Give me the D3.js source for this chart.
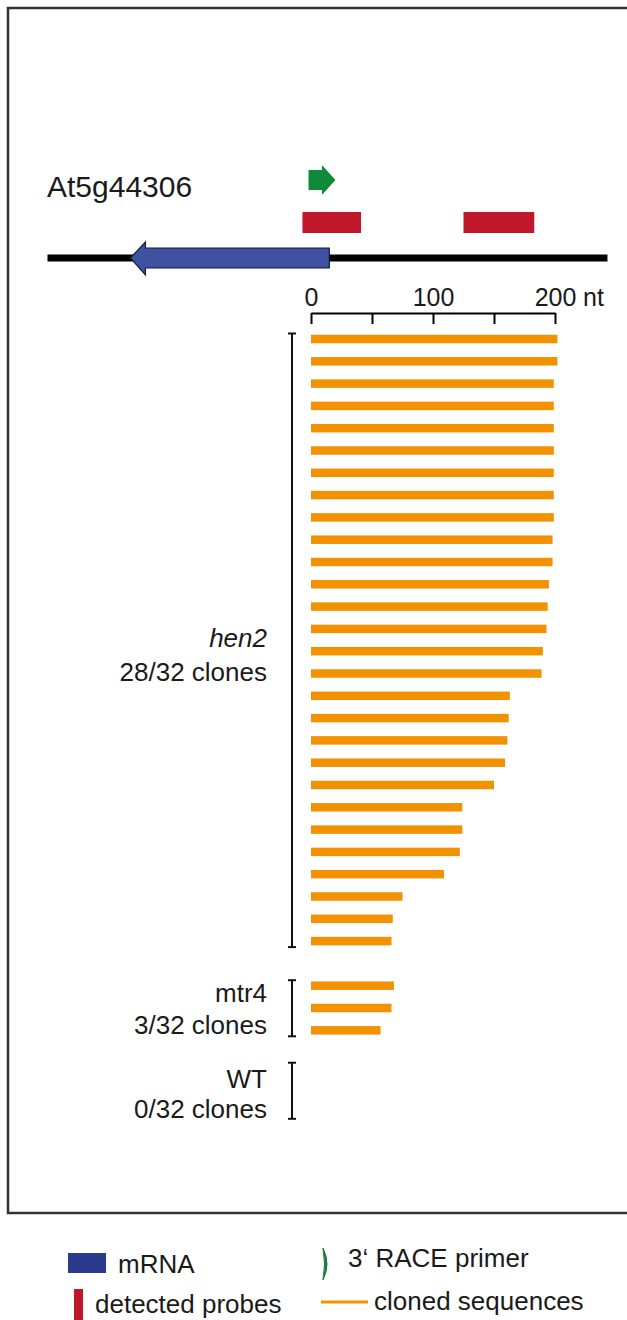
<!DOCTYPE html>
<html>
<head>
<meta charset="utf-8">
<script src="https://cdn.jsdelivr.net/npm/d3@7"></script>
<style>
  body { margin: 0; background: #fff; }
  text { font-family: "Liberation Sans", Arial, sans-serif; fill: #1a1a1a; }
</style>
</head>
<body>
<div id="chart"></div>
<script>
// clone lengths (nt)
const hen2Clones = [202, 202, 199, 199, 199, 199, 199, 199, 199, 198, 198, 195, 194, 193,
                    190, 189, 163, 162, 161, 159, 150, 124, 124, 122, 109, 75, 67, 66];
const mtr4Clones = [68, 66, 57];
const wtClones = [];

// genome features (nt, relative to 0)
const genomeSpan = [-216, 243];
const mrna = [15, -148];          // start, tip (arrow points left)
const probes = [[-7, 41], [125, 183]];
const primer = [-2, 20];
const axisTicks = [0, 50, 100, 150, 200];
const tickLabels = { 0: "0", 100: "100", 200: "200" };

const groups = [
  { name: "hen2", italic: true, clones: hen2Clones, firstRow: 0, rowsShown: [0, 27], label: "28/32 clones", dy: [7, 41] },
  { name: "mtr4", italic: false, clones: mtr4Clones, firstRow: 29, rowsShown: [29, 31], label: "3/32 clones", dy: [-6, 26] },
  { name: "WT", italic: false, clones: wtClones, firstRow: 33, rowsShown: [32.7, 34.7], label: "0/32 clones", dy: [-3, 27] }
];

const width = 627, height = 1320;
const svg = d3.select("#chart").append("svg")
  .attr("width", width)
  .attr("height", height);

// frame
svg.append("rect")
  .attr("x", 8).attr("y", 8)
  .attr("width", 700).attr("height", 1205)
  .attr("fill", "none")
  .attr("stroke", "#333")
  .attr("stroke-width", 2.5);

const x = d3.scaleLinear().domain([0, 200]).range([311, 555]);
const row = d3.scaleLinear().domain([0, 1]).range([339, 361.3]);

function label(parent, tx, ty, str, size, anchor, italic) {
  return parent.append("text")
    .attr("x", tx)
    .attr("y", ty)
    .attr("text-anchor", anchor)
    .attr("font-size", size)
    .attr("font-style", italic ? "italic" : "normal")
    .text(str);
}

// gene name
label(svg, 47, 197, "At5g44306", 30, "start", false);

// 3' RACE primer arrow
const pY = 180;
const pMid = x(primer[0]) + (x(primer[1]) - x(primer[0])) * 0.5;
svg.append("path")
  .attr("d", `M${x(primer[0])},${pY - 10}H${pMid}V${pY - 15}L${x(primer[1])},${pY}L${pMid},${pY + 15}V${pY + 10}H${x(primer[0])}Z`)
  .attr("fill", "#0f8a3a");

// probes
svg.selectAll(".probe")
  .data(probes)
  .enter()
  .append("rect")
    .attr("class", "probe")
    .attr("x", d => x(d[0]))
    .attr("y", 212)
    .attr("width", d => x(d[1]) - x(d[0]))
    .attr("height", 21)
    .attr("fill", "#c0182a");

// genomic line
const gY = 258;
svg.append("line")
  .attr("x1", x(genomeSpan[0])).attr("x2", x(genomeSpan[1]))
  .attr("y1", gY).attr("y2", gY)
  .attr("stroke", "#000")
  .attr("stroke-width", 7);

// mRNA arrow
const headBase = x(mrna[1]) + 15;
svg.append("path")
  .attr("d", `M${x(mrna[0])},${gY - 10}V${gY + 10}H${headBase}V${gY + 17}L${x(mrna[1])},${gY}L${headBase},${gY - 16}V${gY - 10}Z`)
  .attr("fill", "#3f51a1")
  .attr("stroke", "#14183c")
  .attr("stroke-width", 1.2);

// scale bar
const axisG = svg.append("g")
  .attr("transform", "translate(0,313)")
  .call(d3.axisTop(x)
    .tickValues(axisTicks)
    .tickSizeInner(-11)
    .tickSizeOuter(0)
    .tickPadding(7)
    .tickFormat(d => tickLabels[d] || ""));
axisG.select(".domain").attr("stroke", "#000").attr("stroke-width", 2);
axisG.selectAll(".tick line").attr("stroke", "#000").attr("stroke-width", 2);
axisG.selectAll(".tick text")
  .attr("font-size", 25)
  .attr("font-family", "Liberation Sans, Arial, sans-serif")
  .attr("fill", "#1a1a1a");
label(svg, 583, 306, "nt", 25, "start", false);

// clone bars and group brackets
const bx = 292;
groups.forEach(g => {
  svg.append("g").selectAll("rect")
    .data(g.clones)
    .enter()
    .append("rect")
      .attr("x", x(0))
      .attr("y", (d, i) => row(g.firstRow + i) - 4.25)
      .attr("width", d => x(d) - x(0))
      .attr("height", 8.5)
      .attr("fill", "#f39200");

  const y1 = row(g.rowsShown[0]) - 5.5;
  const y2 = row(g.rowsShown[1]) + 6;
  const br = svg.append("g").attr("stroke", "#111").attr("stroke-width", 2);
  br.append("line").attr("x1", bx).attr("x2", bx).attr("y1", y1).attr("y2", y2);
  br.append("line").attr("x1", bx - 4).attr("x2", bx + 4).attr("y1", y1).attr("y2", y1);
  br.append("line").attr("x1", bx - 4).attr("x2", bx + 4).attr("y1", y2).attr("y2", y2);

  const cy = (y1 + y2) / 2;
  label(svg, 267, cy + g.dy[0], g.name, 26, "end", g.italic);
  label(svg, 267, cy + g.dy[1], g.label, 26, "end", false);
});

// legend
svg.append("rect").attr("x", 68).attr("y", 1253).attr("width", 38).attr("height", 20).attr("fill", "#2c3a8e");
label(svg, 118, 1273, "mRNA", 26, "start", false);
svg.append("rect").attr("x", 74).attr("y", 1289).attr("width", 9).attr("height", 31).attr("fill", "#c0182a");
label(svg, 95, 1313, "detected probes", 26, "start", false);
svg.append("path")
  .attr("d", "M323,1248Q331,1264 323,1280Q326,1264 323,1248Z")
  .attr("fill", "#1a7a3a")
  .attr("stroke", "#1a7a3a")
  .attr("stroke-width", 1);
label(svg, 348, 1267, "3\u2018 RACE primer", 26, "start", false);
svg.append("line").attr("x1", 321).attr("x2", 368).attr("y1", 1302).attr("y2", 1302)
  .attr("stroke", "#f39200").attr("stroke-width", 3);
label(svg, 374, 1310, "cloned sequences", 26, "start", false);
</script>
</body>
</html>
